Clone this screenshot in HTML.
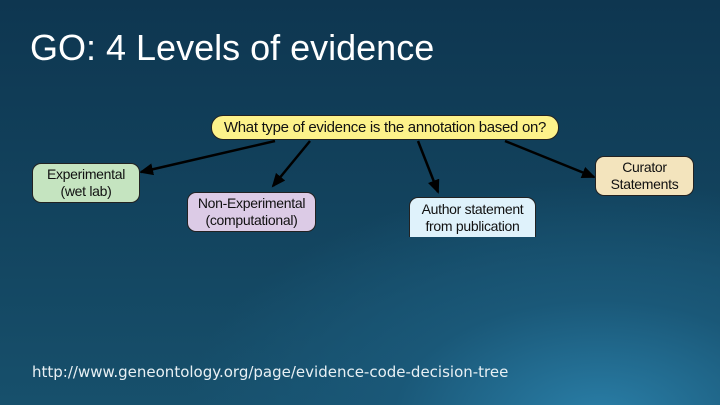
<!DOCTYPE html>
<html><head><style>
body{margin:0;width:720px;height:405px;overflow:hidden;font-family:"Liberation Sans",sans-serif;
background:radial-gradient(ellipse 520px 300px at 600px 420px,#2a7fa8 0%,#1a5878 40%,rgba(16,60,86,0) 80%),linear-gradient(180deg,#0e3650 0%,#134560 60%,#17506c 100%);position:relative}
.t{position:absolute;left:30px;top:27px;color:#fff;font-size:36px;font-family:"Liberation Sans",sans-serif}
.u{position:absolute;left:32px;top:363px;color:#e8f0f4;font-size:15px;font-family:"DejaVu Sans",sans-serif}
.b{position:absolute;border:1.5px solid #222;border-radius:9px;font-size:14px;color:#111;text-align:center;display:flex;align-items:center;justify-content:center;line-height:17px;box-sizing:border-box;letter-spacing:-0.3px}
</style></head><body>
<div class="t">GO: 4 Levels of evidence</div>
<svg width="720" height="405" style="position:absolute;left:0;top:0">
<defs><marker id="a" markerWidth="14" markerHeight="12" refX="12" refY="6" orient="auto" markerUnits="userSpaceOnUse"><path d="M0,0L14,6L0,12z" fill="#000"/></marker></defs>
<g stroke="#000" stroke-width="2.5" marker-end="url(#a)">
<line x1="275" y1="141" x2="141" y2="172"/>
<line x1="310" y1="141" x2="273" y2="186"/>
<line x1="418" y1="141" x2="438" y2="192"/>
<line x1="505" y1="141" x2="594" y2="177"/>
</g></svg>
<div class="b" style="left:211px;top:115px;width:348px;height:25px;background:#fdf28a;border-radius:12px;font-size:15px">What type of evidence is the annotation based on?</div>
<div class="b" style="left:32px;top:163px;width:108px;height:40px;background:#c5e4c0">Experimental<br>(wet lab)</div>
<div class="b" style="left:187px;top:192px;width:129px;height:40px;background:#dccbe6">Non-Experimental<br>(computational)</div>
<div class="b" style="left:409px;top:197px;width:127px;height:40px;background:#dff2fb;border-bottom:none;border-radius:9px 9px 0 0">Author statement<br>from publication</div>
<div class="b" style="left:595px;top:156px;width:99px;height:40px;background:#f3e4bd">Curator<br>Statements</div>
<div class="u">http://www.geneontology.org/page/evidence-code-decision-tree</div>
</body></html>
